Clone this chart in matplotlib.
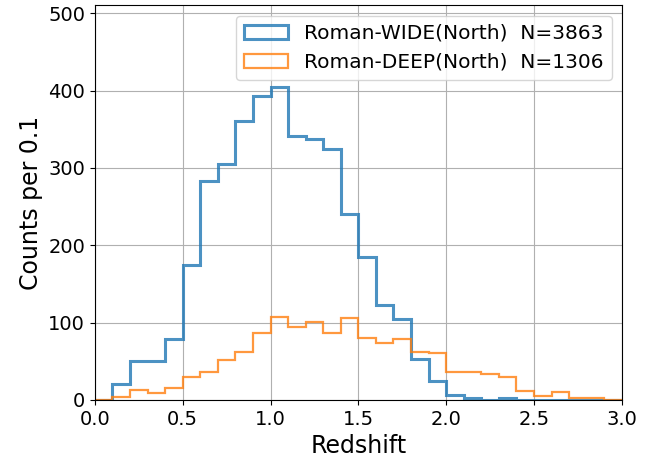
import numpy as np
import matplotlib
matplotlib.use('Agg')
import matplotlib.pyplot as plt

# redshift bins of width 0.1 from 0.0 to 3.0
bin_edges = np.round(np.arange(0, 3.01, 0.1), 2)

wide_counts = [0, 20, 50, 50, 79, 175, 283, 305, 360, 393,
               405, 341, 337, 325, 240, 185, 123, 104, 53, 24,
               6, 2, 0, 2, 0, 0, 0, 0, 0, 0]
deep_counts = [0, 4, 13, 9, 15, 29, 36, 52, 62, 87,
               107, 94, 101, 87, 106, 80, 73, 79, 62, 60,
               36, 36, 34, 29, 11, 5, 10, 2, 2, 0]

wide_label = 'Roman-WIDE(North)  N=3863'
deep_label = 'Roman-DEEP(North)  N=1306'

centers = 0.5 * (bin_edges[:-1] + bin_edges[1:])

fig, ax = plt.subplots(figsize=(6.63, 4.58), dpi=100)
ax.hist(centers, bins=bin_edges, weights=wide_counts, histtype='step',
        lw=2.2, alpha=0.8, color='tab:blue', label=wide_label)
ax.hist(centers, bins=bin_edges, weights=deep_counts, histtype='step',
        lw=1.6, alpha=0.8, color='tab:orange', label=deep_label)

ax.set_xlim(0, 3.0)
ax.set_ylim(0, 510)
ax.set_xlabel('Redshift', fontsize=17)
ax.set_ylabel('Counts per 0.1', fontsize=17)
ax.tick_params(labelsize=14)
ax.grid(True)
ax.legend(loc='upper right', fontsize=14.5, handlelength=2.2)
plt.subplots_adjust(left=0.143, right=0.938, top=0.988, bottom=0.127)
plt.savefig('out.png')
